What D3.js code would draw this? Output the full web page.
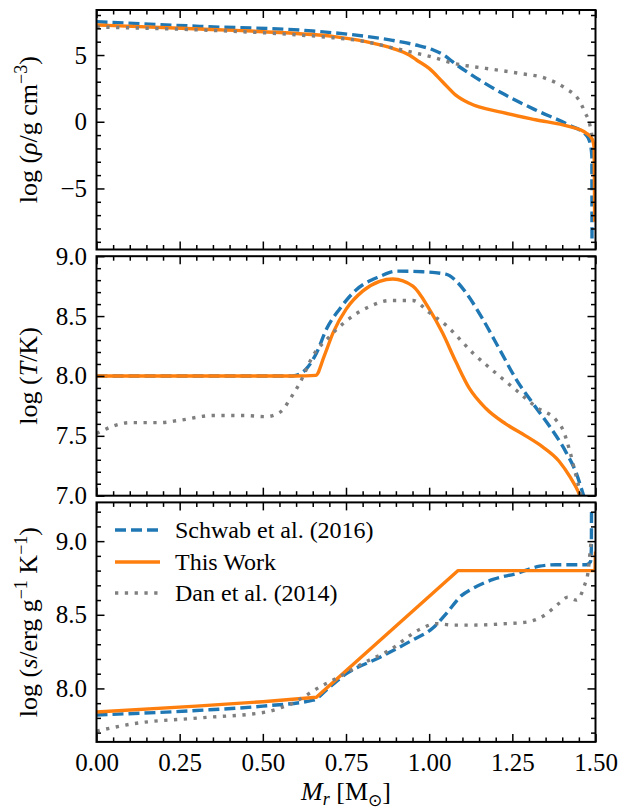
<!DOCTYPE html>
<html><head><meta charset="utf-8">
<script src="https://cdn.jsdelivr.net/npm/d3@7"></script>
<style>
body{margin:0;background:#fff}
svg{display:block}
text{font-family:"Liberation Serif","DejaVu Serif",serif;fill:#000}
</style>
</head><body>
<svg id="c" width="631" height="810"></svg>
<script>
// ---------------- data ----------------
const seriesNames = ["Schwab et al. (2016)", "This Work", "Dan et al. (2014)"];
const xTicks = [0, 0.25, 0.5, 0.75, 1.0, 1.25, 1.5];

// density panel  log(rho / g cm^-3)
const rhoSchwabM = [0, 0.31, 0.65, 0.81, 0.89, 0.96, 1.01, 1.05, 1.07, 1.12, 1.22, 1.32, 1.42, 1.472, 1.484, 1.489, 1.4895];
const rhoSchwab  = [7.5, 7.15, 6.8, 6.4, 6.1, 5.75, 5.4, 4.9, 4.5, 3.63, 2.13, 0.88, -0.25, -1.0, -1.6, -2.6, -8.9];
const rhoWorkM = [0, 0.31, 0.61, 0.71, 0.81, 0.89, 0.94, 0.962, 1.0, 1.04, 1.08, 1.12, 1.22, 1.32, 1.42, 1.472, 1.49, 1.496, 1.4975];
const rhoWork  = [7.25, 6.95, 6.6, 6.4, 6.0, 5.5, 5.0, 4.63, 4.0, 3.0, 2.0, 1.4, 0.7, 0.15, -0.35, -0.85, -1.3, -2.0, -7.5];
const rhoDanM = [0, 0.31, 0.61, 0.71, 0.81, 0.88, 0.95, 1.01, 1.07, 1.17, 1.27, 1.35, 1.41, 1.45, 1.47, 1.482, 1.489];
const rhoDan  = [7.1, 6.88, 6.5, 6.3, 6.0, 5.6, 5.2, 4.85, 4.4, 4.0, 3.63, 3.25, 2.5, 1.63, 0.63, -0.12, -1.0];

// temperature panel  log(T / K)
const tSchwabM = [0, 0.3, 0.59, 0.631, 0.661, 0.691, 0.731, 0.781, 0.851, 0.901, 0.981, 1.05, 1.082, 1.112, 1.162, 1.212, 1.262, 1.312, 1.362, 1.412, 1.442, 1.462, 1.47];
const tSchwab  = [8.0, 8.0, 8.0, 8.06, 8.19, 8.39, 8.56, 8.72, 8.83, 8.875, 8.87, 8.85, 8.79, 8.69, 8.47, 8.22, 7.97, 7.77, 7.58, 7.36, 7.19, 7.02, 6.95];
const tWorkM = [0, 0.3, 0.6, 0.659, 0.685, 0.711, 0.751, 0.801, 0.851, 0.891, 0.951, 1.0, 1.04, 1.08, 1.12, 1.17, 1.23, 1.29, 1.34, 1.39, 1.425, 1.447, 1.46];
const tWork  = [8.0, 8.0, 8.0, 8.005, 8.17, 8.36, 8.56, 8.71, 8.79, 8.81, 8.75, 8.56, 8.36, 8.12, 7.9, 7.73, 7.6, 7.5, 7.41, 7.29, 7.15, 7.04, 6.95];
const tDanM = [0, 0.1, 0.19, 0.25, 0.35, 0.44, 0.51, 0.54, 0.561, 0.58, 0.611, 0.651, 0.701, 0.751, 0.821, 0.881, 0.951, 1.0, 1.052, 1.132, 1.202, 1.262, 1.322, 1.382, 1.402, 1.422, 1.442, 1.452, 1.46];
const tDan  = [7.52, 7.61, 7.61, 7.63, 7.67, 7.67, 7.66, 7.68, 7.72, 7.8, 7.94, 8.17, 8.33, 8.46, 8.58, 8.63, 8.63, 8.53, 8.42, 8.19, 8.02, 7.88, 7.74, 7.63, 7.55, 7.38, 7.16, 7.05, 6.95];

// entropy panel  log(s / erg g^-1 K^-1)
const sSchwabM = [0, 0.3, 0.5, 0.651, 0.701, 0.751, 0.851, 0.951, 1.011, 1.052, 1.097, 1.132, 1.192, 1.262, 1.332, 1.382, 1.472, 1.485, 1.4875, 1.488];
const sSchwab  = [7.82, 7.85, 7.88, 7.92, 8.01, 8.10, 8.21, 8.33, 8.41, 8.51, 8.63, 8.68, 8.74, 8.78, 8.83, 8.84, 8.84, 8.86, 8.95, 9.2];
const sWorkM = [0, 0.3, 0.5, 0.661, 1.087, 1.4985, 1.5];
const sWork  = [7.84, 7.88, 7.91, 7.94, 8.80, 8.80, 8.93];
const sDanM = [0, 0.11, 0.31, 0.51, 0.561, 0.59, 0.621, 0.671, 0.731, 0.801, 0.881, 0.971, 1.022, 1.072, 1.132, 1.232, 1.292, 1.342, 1.392, 1.417, 1.442, 1.467, 1.477, 1.487, 1.49];
const sDan  = [7.71, 7.76, 7.80, 7.84, 7.875, 7.90, 7.94, 8.01, 8.08, 8.17, 8.26, 8.40, 8.44, 8.43, 8.43, 8.44, 8.45, 8.49, 8.58, 8.62, 8.60, 8.70, 8.78, 8.99, 9.02];

// y tick values per panel
const rhoMajor = [-5, 0, 5];
const tMajor = [7.0, 7.5, 8.0, 8.5, 9.0];
const sMajor = [8.0, 8.5, 9.0];

// ---------------- layout ----------------
const svg = d3.select("#c");
const X0 = 96.5, X1 = 595.5;
const x = d3.scaleLinear().domain([0, 1.5]).range([X0, X1]);
const xMinor = d3.range(0, 1.5001, 0.05).map(v => +v.toFixed(2));

const colors = ["#1f77b4", "#ff7f0e", "#7f7f7f"];
const dashes = ["11,5", null, "3.3,6.5"];
const LW = 3.4;

const panels = [
  { top: 10, bot: 249.5, dom: [-9.575, 8.375], major: rhoMajor, minor: d3.range(-9, 9, 1),
    fmt: d => d < 0 ? "\u2212" + Math.abs(d) : String(d),
    series: [[rhoSchwabM, rhoSchwab], [rhoWorkM, rhoWork], [rhoDanM, rhoDan]], curve: [1,1,1] },
  { top: 256.2, bot: 495.7, dom: [7.0, 9.0], major: tMajor, minor: d3.range(70, 91, 1).map(v => v / 10),
    fmt: d3.format(".1f"),
    series: [[tSchwabM, tSchwab], [tWorkM, tWork], [tDanM, tDan]], curve: [1,1,1] },
  { top: 502.4, bot: 741.9, dom: [7.637, 9.263], major: sMajor, minor: d3.range(77, 93, 1).map(v => v / 10),
    fmt: d3.format(".1f"),
    series: [[sSchwabM, sSchwab], [sWorkM, sWork], [sDanM, sDan]], curve: [1,0,1] }
];

panels.forEach((p, i) => {
  const y = d3.scaleLinear().domain(p.dom).range([p.bot, p.top]);
  const g = svg.append("g");
  const clipId = "clip" + i;
  svg.append("clipPath").attr("id", clipId).append("rect")
    .attr("x", X0).attr("y", p.top).attr("width", X1 - X0).attr("height", p.bot - p.top);

  const lg = g.append("g").attr("clip-path", `url(#${clipId})`);
  p.series.forEach((s, k) => {
    const pts = s[0].map((m, j) => [m, s[1][j]]);
    const line = d3.line().x(d => x(d[0])).y(d => y(d[1]))
      .curve(p.curve[k] ? d3.curveMonotoneX : d3.curveLinear);
    lg.append("path").attr("d", line(pts)).attr("fill", "none")
      .attr("stroke", colors[k]).attr("stroke-width", LW)
      .attr("stroke-dasharray", dashes[k])
      .attr("stroke-linejoin", "round");
  });

  const styleAxis = (sel) => {
    sel.select(".domain").remove();
    sel.selectAll(".tick line").attr("stroke", "#000").attr("stroke-width", 1.5);
    sel.selectAll(".tick text").style("font-size", "25px").attr("font-family", null);
  };
  const minorVals = p.minor.filter(v => v >= p.dom[0] && v <= p.dom[1] && !p.major.includes(v));
  const majorVals = p.major.filter(v => v >= p.dom[0] - 1e-9 && v <= p.dom[1] + 1e-9);

  g.append("g").attr("transform", `translate(${X0},0)`)
    .call(d3.axisLeft(y).tickValues(majorVals).tickSize(-8).tickPadding(9.5).tickFormat(p.fmt)).call(styleAxis);
  g.append("g").attr("transform", `translate(${X0},0)`)
    .call(d3.axisLeft(y).tickValues(minorVals).tickSize(-4.5).tickFormat("")).call(styleAxis);
  g.append("g").attr("transform", `translate(${X1},0)`)
    .call(d3.axisRight(y).tickValues(majorVals).tickSize(-8).tickFormat("")).call(styleAxis);
  g.append("g").attr("transform", `translate(${X1},0)`)
    .call(d3.axisRight(y).tickValues(minorVals).tickSize(-4.5).tickFormat("")).call(styleAxis);
  const xMin = xMinor.filter(v => !xTicks.some(t => Math.abs(t - v) < 1e-6));
  g.append("g").attr("transform", `translate(0,${p.top})`)
    .call(d3.axisTop(x).tickValues(xTicks).tickSize(-8).tickFormat("")).call(styleAxis);
  g.append("g").attr("transform", `translate(0,${p.top})`)
    .call(d3.axisTop(x).tickValues(xMin).tickSize(-4.5).tickFormat("")).call(styleAxis);
  g.append("g").attr("transform", `translate(0,${p.bot})`)
    .call(d3.axisBottom(x).tickValues(xTicks).tickSize(-8).tickPadding(11)
      .tickFormat(i === 2 ? d3.format(".2f") : "")).call(styleAxis);
  g.append("g").attr("transform", `translate(0,${p.bot})`)
    .call(d3.axisBottom(x).tickValues(xMin).tickSize(-4.5).tickFormat("")).call(styleAxis);

  g.append("rect").attr("x", X0).attr("y", p.top).attr("width", X1 - X0).attr("height", p.bot - p.top)
    .attr("fill", "none").attr("stroke", "#000").attr("stroke-width", 2);
});

// ---------------- axis titles ----------------
function yTitle(cy, parts) {
  const t = svg.append("text").attr("transform", `translate(37,${cy}) rotate(-90)`)
    .attr("text-anchor", "middle").style("font-size", "26px");
  parts.forEach(pt => {
    const ts = t.append("tspan").text(pt.t);
    if (pt.i) ts.style("font-style", "italic");
    if (pt.sup) ts.style("font-size", "18px").attr("dy", -10);
    if (pt.down) ts.attr("dy", 10);
  });
}
yTitle((10 + 249.5) / 2, [{t: "log ("}, {t: "\u03c1", i: 1}, {t: "/g cm"}, {t: "\u22123", sup: 1}, {t: ")", down: 1}]);
yTitle((256.2 + 495.7) / 2, [{t: "log ("}, {t: "T", i: 1}, {t: "/K)"}]);
yTitle((502.4 + 741.9) / 2, [{t: "log ("}, {t: "s", i: 1}, {t: "/erg g"}, {t: "\u22121", sup: 1}, {t: " K", down: 1}, {t: "\u22121", sup: 1}, {t: ")", down: 1}]);

{
  const t = svg.append("text").attr("x", 346).attr("y", 800).attr("text-anchor", "middle").style("font-size", "26px");
  t.append("tspan").text("M").style("font-style", "italic");
  t.append("tspan").text("r").style("font-style", "italic").style("font-size", "18px").attr("dy", 5);
  t.append("tspan").text(" [M").attr("dy", -5);
  t.append("tspan").text("\u2299").style("font-size", "17px").attr("dy", 6).attr("font-family", "DejaVu Sans");
  t.append("tspan").text("]").attr("dy", -6);
}

// ---------------- legend ----------------
const legY = [530, 562, 593];
seriesNames.forEach((name, k) => {
  svg.append("line").attr("x1", 115).attr("x2", 160).attr("y1", legY[k]).attr("y2", legY[k])
    .attr("stroke", colors[k]).attr("stroke-width", LW).attr("stroke-dasharray", dashes[k]);
  svg.append("text").attr("x", 175).attr("y", legY[k] + 8).style("font-size", "24px").text(name);
});
</script>
</body></html>
